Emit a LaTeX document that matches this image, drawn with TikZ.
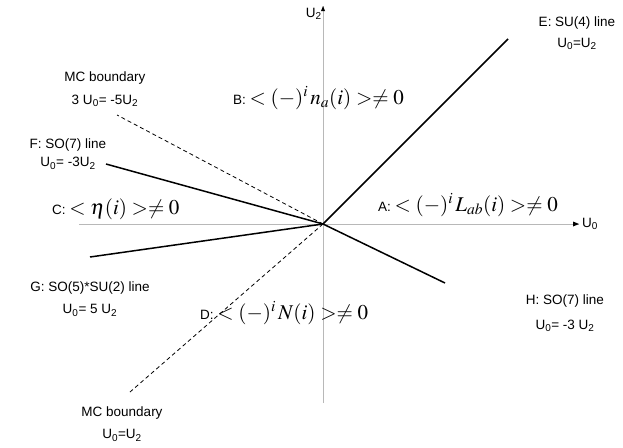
\documentclass[tikz,border=0pt]{standalone}
\usepackage{mathptmx}
\usepackage{fontspec}
\setmainfont{Liberation Sans}
\usetikzlibrary{arrows.meta}
\begin{document}
\begin{tikzpicture}[x=1pt,y=-1pt,
  lbl/.style={font=\fontsize{13.5}{15}\selectfont, align=center, inner sep=0pt},
  mlbl/.style={font=\fontsize{13.5}{15}\selectfont, inner sep=0pt, anchor=west},
  axis/.style={draw=black!28, line width=0.7pt},
  phase/.style={line width=1.5pt},
  mc/.style={dashed, line width=0.8pt, dash pattern=on 4pt off 3pt}]
\useasboundingbox (0,0) rectangle (623,447);
\newcommand{\zs}{\textsubscript{0}}
\newcommand{\ts}{\textsubscript{2}}
\newcommand{\mm}[1]{{\fontsize{21}{23}\selectfont$#1$}}
\coordinate (O) at (323,224);
\coordinate (xl) at (79,224);
\coordinate (xr) at (579,224);
\coordinate (yt) at (323,6);
\coordinate (yb) at (323,403);
\draw[axis] (xl) -- (xr);
\draw[axis] (yb) -- (yt);
\fill[black] (xr) -- ++(-6,-2.5) -- ++(0,5) -- cycle;
\fill[black] (yt) -- ++(-2,5) -- ++(4,0) -- cycle;
\node[lbl, anchor=west] (u0) at (582,224) {U\zs};
\node[lbl, anchor=east] (u2) at (322,14) {U\ts};
% lines
\coordinate (E) at (508,39);
\coordinate (F) at (106,164);
\coordinate (G) at (90,257);
\coordinate (H) at (445,283);
\coordinate (MCa) at (117,115);
\coordinate (MCb) at (130,392);
\draw[phase] (O) -- (E);
\draw[phase] (O) -- (F);
\draw[phase] (O) -- (G);
\draw[phase] (O) -- (H);
\draw[mc] (O) -- (MCa);
\draw[mc] (O) -- (MCb);
% labels
\node[lbl] (Elab) at (577,33) {E: SU(4) line\\[6pt]U\zs=U\ts};
\node[lbl] (Flab) at (68,154) {F: SO(7) line\\[3pt]U\zs= -3U\ts};
\node[lbl] (Glab) at (90,299) {G: SO(5)*SU(2) line\\[7pt]U\zs= 5 U\ts};
\node[lbl] (Hlab) at (565,313) {H: SO(7) line\\[10pt]U\zs= -3 U\ts};
\node[lbl] (MCalab) at (105,89) {MC boundary\\[8pt]3 U\zs= -5U\ts};
\node[lbl] (MCblab) at (122,424) {MC boundary\\[7pt]U\zs=U\ts};
% phases
\node[mlbl] (A) at (378,205) {A: \mm{<(-)^{i}\,L_{ab}(i)>\neq 0}};
\node[mlbl] (B) at (233,98) {B: \mm{<(-)^{i}\,n_{a}(i)>\neq 0}};
\node[mlbl] (C) at (52,209) {C: \mm{<\eta(i)>\neq 0}};
\node[mlbl] (D) at (200,313) {D: \mm{<(-)^{i}\,N(i)>\neq 0}};
\end{tikzpicture}
\end{document}
